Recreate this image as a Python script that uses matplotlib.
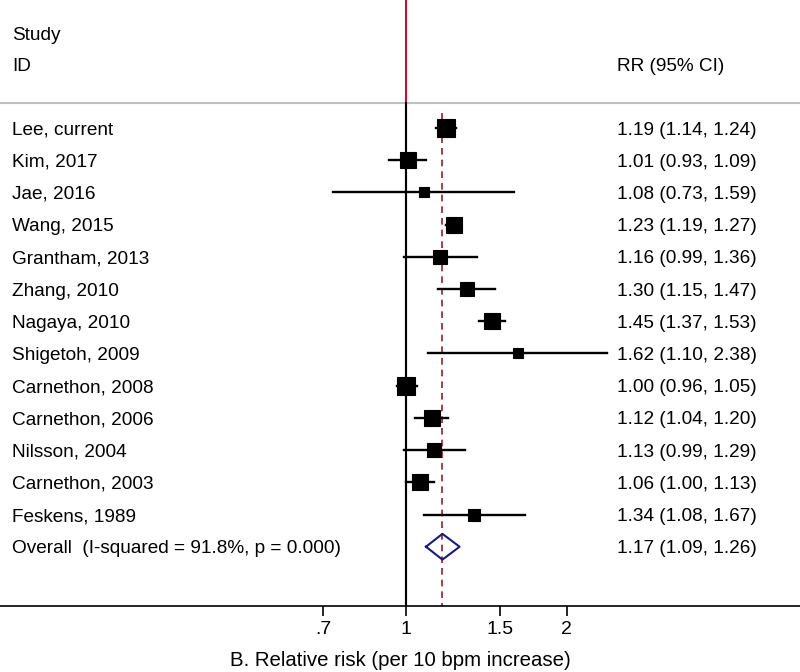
import matplotlib.pyplot as plt
import matplotlib.transforms as mtransforms
import numpy as np

plt.rcParams['font.family'] = ['Liberation Sans', 'DejaVu Sans']

studies = ["Lee, current", "Kim, 2017", "Jae, 2016", "Wang, 2015", "Grantham, 2013",
           "Zhang, 2010", "Nagaya, 2010", "Shigetoh, 2009", "Carnethon, 2008",
           "Carnethon, 2006", "Nilsson, 2004", "Carnethon, 2003", "Feskens, 1989"]
rr = [1.19, 1.01, 1.08, 1.23, 1.16, 1.30, 1.45, 1.62, 1.00, 1.12, 1.13, 1.06, 1.34]
lo = [1.14, 0.93, 0.73, 1.19, 0.99, 1.15, 1.37, 1.10, 0.96, 1.04, 0.99, 1.00, 1.08]
hi = [1.24, 1.09, 1.59, 1.27, 1.36, 1.47, 1.53, 2.38, 1.05, 1.20, 1.29, 1.13, 1.67]
# approximate study weights (%)
weights = [10.3, 9.3, 3.1, 8.5, 6.1, 7.7, 9.3, 3.1, 10.5, 9.7, 7.7, 9.7, 5.2]
overall_label = "Overall  (I-squared = 91.8%, p = 0.000)"
overall = (1.17, 1.09, 1.26)
xticks = [0.7, 1, 1.5, 2]
xticklabels = [".7", "1", "1.5", "2"]
xlabel = "B. Relative risk (per 10 bpm increase)"

fs = 13.7
fig = plt.figure(figsize=(8, 6.72), dpi=100)
ax = fig.add_axes([0, 66 / 672, 1, 606 / 672])
ax.set_xscale('log')
ax.set_xlim(0.1735, 5.472)
ax.set_ylim(14.84, -3.975)

n = len(studies)
rows = np.arange(n)
sep = -0.78

# null line: red in header, black in body
ax.axvline(1, color='#c8102e', lw=1.5, zorder=1)
ax.plot([1, 1], [sep, 14.84], color='black', lw=1.5, zorder=2)
ax.axhline(sep, color='#c0c0c0', lw=1.5, zorder=1)
ax.plot([overall[0], overall[0]], [sep + 0.3, 14.84], color='#9b1c2c', lw=1.2,
        ls=(0, (4, 3)), zorder=2)

for i in range(n):
    ax.plot([lo[i], hi[i]], [rows[i], rows[i]], color='black', lw=1.7, zorder=3)
    side_px = np.sqrt(weights[i] * 26.48)
    ax.plot(rr[i], rows[i], marker='s', color='black', ms=side_px * 0.75,
            mew=0.8, mec='black', zorder=4)

yo = n
dx = [overall[1], overall[0], overall[2], overall[0], overall[1]]
dy = [yo, yo - 0.4, yo, yo + 0.4, yo]
ax.plot(dx, dy, color='#1a1a7a', lw=1.5, zorder=4)

trans = mtransforms.blended_transform_factory(ax.transAxes, ax.transData)
va = 'center_baseline'
for i in range(n):
    ax.text(12 / 800, rows[i], studies[i], transform=trans, fontsize=fs, va=va)
    ax.text(617 / 800, rows[i], f"{rr[i]:.2f} ({lo[i]:.2f}, {hi[i]:.2f})",
            transform=trans, fontsize=fs, va=va)
ax.text(12 / 800, yo, overall_label, transform=trans, fontsize=fs, va=va)
ax.text(617 / 800, yo, f"{overall[0]:.2f} ({overall[1]:.2f}, {overall[2]:.2f})",
        transform=trans, fontsize=fs, va=va)
ax.text(12 / 800, -2.95, "Study", transform=trans, fontsize=fs, va=va)
ax.text(12 / 800, -1.96, "ID", transform=trans, fontsize=fs, va=va)
ax.text(617 / 800, -1.96, "RR (95% CI)", transform=trans, fontsize=fs, va=va)

for s in ['top', 'left', 'right']:
    ax.spines[s].set_visible(False)
ax.spines['bottom'].set_linewidth(1.2)
ax.set_yticks([])
ax.set_xticks(xticks)
ax.set_xticklabels(xticklabels, fontsize=14)
ax.xaxis.set_minor_locator(plt.NullLocator())
ax.tick_params(axis='x', length=7.5, width=1.2, pad=3)
ax.set_xlabel(xlabel, fontsize=14.7)
ax.xaxis.set_label_coords(0.5, -54 / 606)
ax.xaxis.label.set_va('center')

fig.savefig('out.png', dpi=100)
